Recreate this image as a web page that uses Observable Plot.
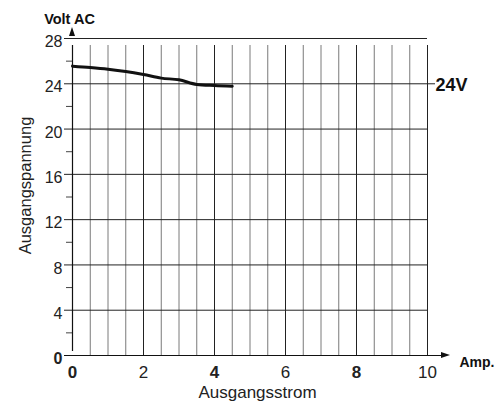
<!DOCTYPE html>
<html>
<head>
<meta charset="utf-8">
<script src="https://cdn.jsdelivr.net/npm/d3@7"></script>
<script src="https://cdn.jsdelivr.net/npm/@observablehq/plot@0.6"></script>
<style>
  html, body { margin: 0; padding: 0; background: #fff; }
  svg { display: block; }
</style>
</head>
<body>
<div id="chart"></div>
<script>
// Data
const current = [0, 0.5, 1, 1.5, 2, 2.5, 3, 3.5, 4, 4.5];          // Ampere
const voltage = [25.56, 25.44, 25.29, 25.09, 24.82, 24.5, 24.35, 23.94, 23.85, 23.79]; // Volt AC

const xTicks = [0, 2, 4, 6, 8, 10];
const xBold = [0, 4, 8];
const yTicks = [0, 4, 8, 12, 16, 20, 24, 28];
const yBold = [0];
const yMinor = [2, 6, 10, 14, 18, 22, 26];
const xGrid = d3.range(0, 10.001, 0.5);

const data = current.map((c, i) => ({c, v: voltage[i]}));
const font = "Liberation Sans, Arial, Helvetica, sans-serif";

// custom mark: filled arrowheads at the axis ends, positioned with the scales
function arrows(index, scales) {
  const ns = "http://www.w3.org/2000/svg";
  const g = document.createElementNS(ns, "g");
  const x0 = scales.x(0), x10 = scales.x(10), y0 = scales.y(0), y28 = scales.y(28);
  const tipX = x10 + 23, tipY = y28 - 11;
  const p1 = document.createElementNS(ns, "path");
  p1.setAttribute("d", `M${tipX},${y0}L${tipX - 9},${y0 - 3}L${tipX - 9},${y0 + 3}Z`);
  p1.setAttribute("fill", "#111");
  const p2 = document.createElementNS(ns, "path");
  p2.setAttribute("d", `M${x0},${tipY}L${x0 - 3},${tipY + 9}L${x0 + 3},${tipY + 9}Z`);
  p2.setAttribute("fill", "#111");
  g.appendChild(p1); g.appendChild(p2);
  return g;
}

const yLab = (arr, bold) => Plot.text(arr, {x: 0, y: d => d, text: d => String(d), textAnchor: "end", dx: -10, dy: 3.5,
  fontSize: 16, fill: "#222", fontWeight: bold ? "bold" : "normal"});
const xLab = (arr, bold) => Plot.text(arr, {x: d => d, y: 0, text: d => String(d), dy: 17.5,
  fontSize: 17, fill: "#222", fontWeight: bold ? "bold" : "normal"});

const chart = Plot.plot({
  width: 504,
  height: 403,
  marginLeft: 72,
  marginRight: 77,
  marginTop: 38,
  marginBottom: 48,
  style: {fontFamily: font, background: "#fff", overflow: "visible"},
  x: {domain: [0, 10], axis: null},
  y: {domain: [0, 28], axis: null},
  marks: [
    // vertical grid
    Plot.ruleX(xGrid.filter(d => d % 2 !== 0), {y1: 0, y2: 28, insetBottom: -7, stroke: "#7a7a7a", strokeWidth: 1, strokeOpacity: 1}),
    Plot.ruleX(xGrid.filter(d => d % 2 === 0 && d !== 0), {y1: 0, y2: 28, insetBottom: -7, stroke: "#222", strokeWidth: 1, strokeOpacity: 1}),
    // horizontal grid
    Plot.ruleY(yTicks.filter(d => d !== 0 && d !== 24), {x1: 0, x2: 10, insetLeft: -8, stroke: "#222", strokeWidth: 1, strokeOpacity: 1}),
    Plot.ruleY([24], {x1: 0, x2: 10, insetLeft: -8, insetRight: -8, stroke: "#222", strokeWidth: 1, strokeOpacity: 1}),
    // minor y ticks
    Plot.ruleY(yMinor, {x1: 0, x2: 0, insetLeft: -6, stroke: "#444", strokeWidth: 1, strokeOpacity: 1}),
    // axes
    Plot.ruleY([0], {x1: 0, x2: 10, insetLeft: -8, insetRight: -15, stroke: "#111", strokeWidth: 1.2, strokeOpacity: 1}),
    Plot.ruleX([0], {y1: 0, y2: 28, insetTop: -4, insetBottom: -7, stroke: "#111", strokeWidth: 1.2, strokeOpacity: 1}),
    arrows,
    // curve
    Plot.line(data, {x: "c", y: "v", stroke: "#111", strokeWidth: 3, curve: "monotone-x"}),
    // tick labels
    yLab(yTicks.filter(d => !yBold.includes(d)), false),
    yLab(yBold, true),
    xLab(xTicks.filter(d => !xBold.includes(d)), false),
    xLab(xBold, true),
    // titles
    Plot.text(["Volt AC"], {x: 0, y: 28, dx: -3, dy: -15, lineAnchor: "bottom", fontSize: 14.5, fontWeight: "bold", fill: "#111"}),
    Plot.text(["Amp."], {x: 10, y: 0, dx: 32, dy: 7.5, textAnchor: "start", fontSize: 14, fontWeight: "bold", fill: "#111"}),
    Plot.text(["24V"], {x: 10, y: 24, dx: 8, dy: 1, textAnchor: "start", fontSize: 18, fontWeight: "bold", fill: "#111"}),
    Plot.text(["Ausgangsstrom"], {x: 5, y: 0, dx: 7.5, dy: 37, fontSize: 17, fill: "#222"}),
    Plot.text(["Ausgangspannung"], {frameAnchor: "top-left", textAnchor: "middle", lineAnchor: "middle",
      dx: -47, dy: 147, rotate: -90, fontSize: 16.5, fill: "#222"})
  ]
});
document.getElementById("chart").appendChild(chart);
</script>
</body>
</html>
